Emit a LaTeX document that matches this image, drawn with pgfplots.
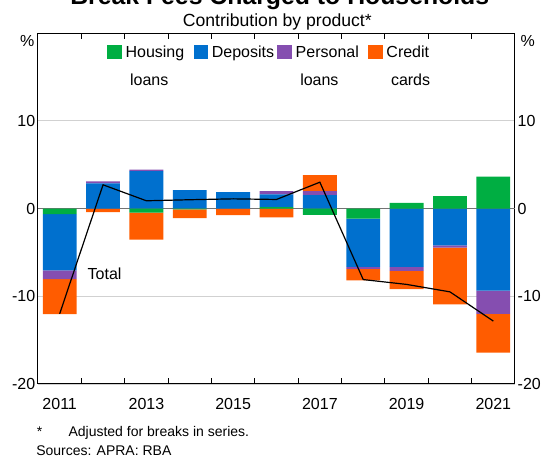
\documentclass[border=0pt]{standalone}
\usepackage{fontspec}
\setmainfont{Liberation Sans}
\usepackage{pgfplots}
\pgfplotsset{compat=1.18}
\usepackage{pgfplotstable}

\definecolor{housing}{RGB}{0,174,66}
\definecolor{deposits}{RGB}{0,112,206}
\definecolor{personal}{RGB}{133,78,176}
\definecolor{credit}{RGB}{255,92,0}

% contribution by product, per cent
\pgfplotstableread{
year housing deposits personal credit total
2011 -0.65 -6.40 -1.00 -4.00 -12.00
2012  0.00  2.86  0.23 -0.40   2.70
2013 -0.46  4.26  0.16 -3.10   0.88
2014 -0.10  2.10  0.00 -1.00   1.00
2015  0.00  1.86  0.00 -0.75   1.10
2016  0.15  1.45  0.38 -1.00   1.03
2017 -0.72  1.52  0.46  1.83   3.00
2018 -1.14 -5.50 -0.25 -1.30  -8.10
2019  0.65 -6.66 -0.46 -2.06  -8.65
2020  1.40 -4.20 -0.26 -6.47  -9.50
2021  3.62 -9.37 -2.63 -4.42 -12.83
}\fees

\newcommand{\twoline}[2]{\begin{tabular}[t]{@{}l@{}}#1\\[6.5pt]\hspace{3.4pt}#2\end{tabular}}

\begin{document}
\begin{tikzpicture}[font=\fontsize{12pt}{14.4pt}\selectfont]
\begin{axis}[
    at={(0,0)}, anchor=south west,
    scale only axis, width=357.75pt, height=263.25pt,
    xmin=2010.5, xmax=2021.5, ymin=-20, ymax=20,
    ybar stacked, stack negative=separate, bar width=0.78,
    axis line style={line width=0.75pt},
    xtick={2011,2013,...,2021},
    minor xtick={2011.5,2012.5,...,2020.5},
    major x tick style={draw=none},
    minor x tick style={black, line width=0.75pt},
    minor tick length=4.7pt,
    tick align=inside,
    xticklabel style={yshift=-7.5pt},
    ytick={-20,-10,10},
    extra y ticks={0}, extra y tick labels={0},
    extra y tick style={major grid style={draw=black!55, line width=0.8pt}},
    ytick style={draw=none},
    ymajorgrids, major grid style={draw=black!18, line width=0.8pt},
    yticklabel style={xshift=1.5pt},
    /pgf/number format/assume math mode=true,
    /pgf/number format/1000 sep={},
    legend columns=4,
    legend style={draw=none, fill=none, inner sep=0pt, outer sep=0pt,
      at={(rel axis cs:0.1453,0.9692)}, anchor=north west,
      nodes={inner sep=0pt},
      cells={anchor=base west},
      /tikz/every odd column/.append style={column sep=2.8pt},
      /tikz/every even column/.append style={column sep=7pt}},
    legend image code/.code={\fill[#1] (0pt,-1.5pt) rectangle (10.9pt,9.2pt);},
]
\addplot[fill=housing, draw=none] table[x=year, y=housing] {\fees};
\addlegendentry{\twoline{Housing}{loans}}
\addplot[fill=deposits, draw=none] table[x=year, y=deposits] {\fees};
\addlegendentry{Deposits\kern-4.5pt}
\addplot[fill=personal, draw=none] table[x=year, y=personal] {\fees};
\addlegendentry{\twoline{Personal}{loans}}
\addplot[fill=credit, draw=none] table[x=year, y=credit] {\fees};
\addlegendentry{\twoline{Credit}{cards}}
\end{axis}
\begin{axis}[
    at={(0,0)}, anchor=south west,
    scale only axis, width=357.75pt, height=263.25pt,
    xmin=2010.5, xmax=2021.5, ymin=-20, ymax=20,
    hide x axis,
    axis y line*=right,
    y axis line style={draw=none},
    ytick={-20,-10,0,10},
    ytick style={draw=none},
    yticklabel style={xshift=-1.5pt},
    /pgf/number format/assume math mode=true,
    clip=false,
]
\addplot[black, line width=0.9pt, mark=none] table[x=year, y=total] {\fees};
\node[anchor=base west, inner sep=0pt] at (axis cs:2011.64,-8.1) {Total};
\end{axis}
\node[anchor=east, inner sep=0pt] at (-2.5pt,256.9pt) {\%};
\node[anchor=west, inner sep=0pt] at (361.75pt,256.9pt) {\%};
\node[anchor=base west, inner sep=0pt, font=\fontsize{18.6pt}{20pt}\selectfont\bfseries]
  at (24pt,284.6pt) {Break Fees Charged to Households};
\node[anchor=base west, inner sep=0pt, font=\fontsize{13.2pt}{15pt}\selectfont]
  at (108.5pt,268pt) {Contribution by product*};
\node[anchor=base west, inner sep=0pt, font=\fontsize{10.5pt}{12pt}\selectfont]
  at (-1pt,-39.5pt) {*};
\node[anchor=base west, inner sep=0pt, font=\fontsize{10.5pt}{12pt}\selectfont]
  at (22.7pt,-39.5pt) {Adjusted for breaks in series.};
\node[anchor=base west, inner sep=0pt, font=\fontsize{10.5pt}{12pt}\selectfont]
  at (-1.5pt,-54pt) {Sources: APRA: RBA};
\pgfresetboundingbox
\useasboundingbox (-28.5pt,-54.75pt) rectangle (379.5pt,288pt);
\end{tikzpicture}
\end{document}
